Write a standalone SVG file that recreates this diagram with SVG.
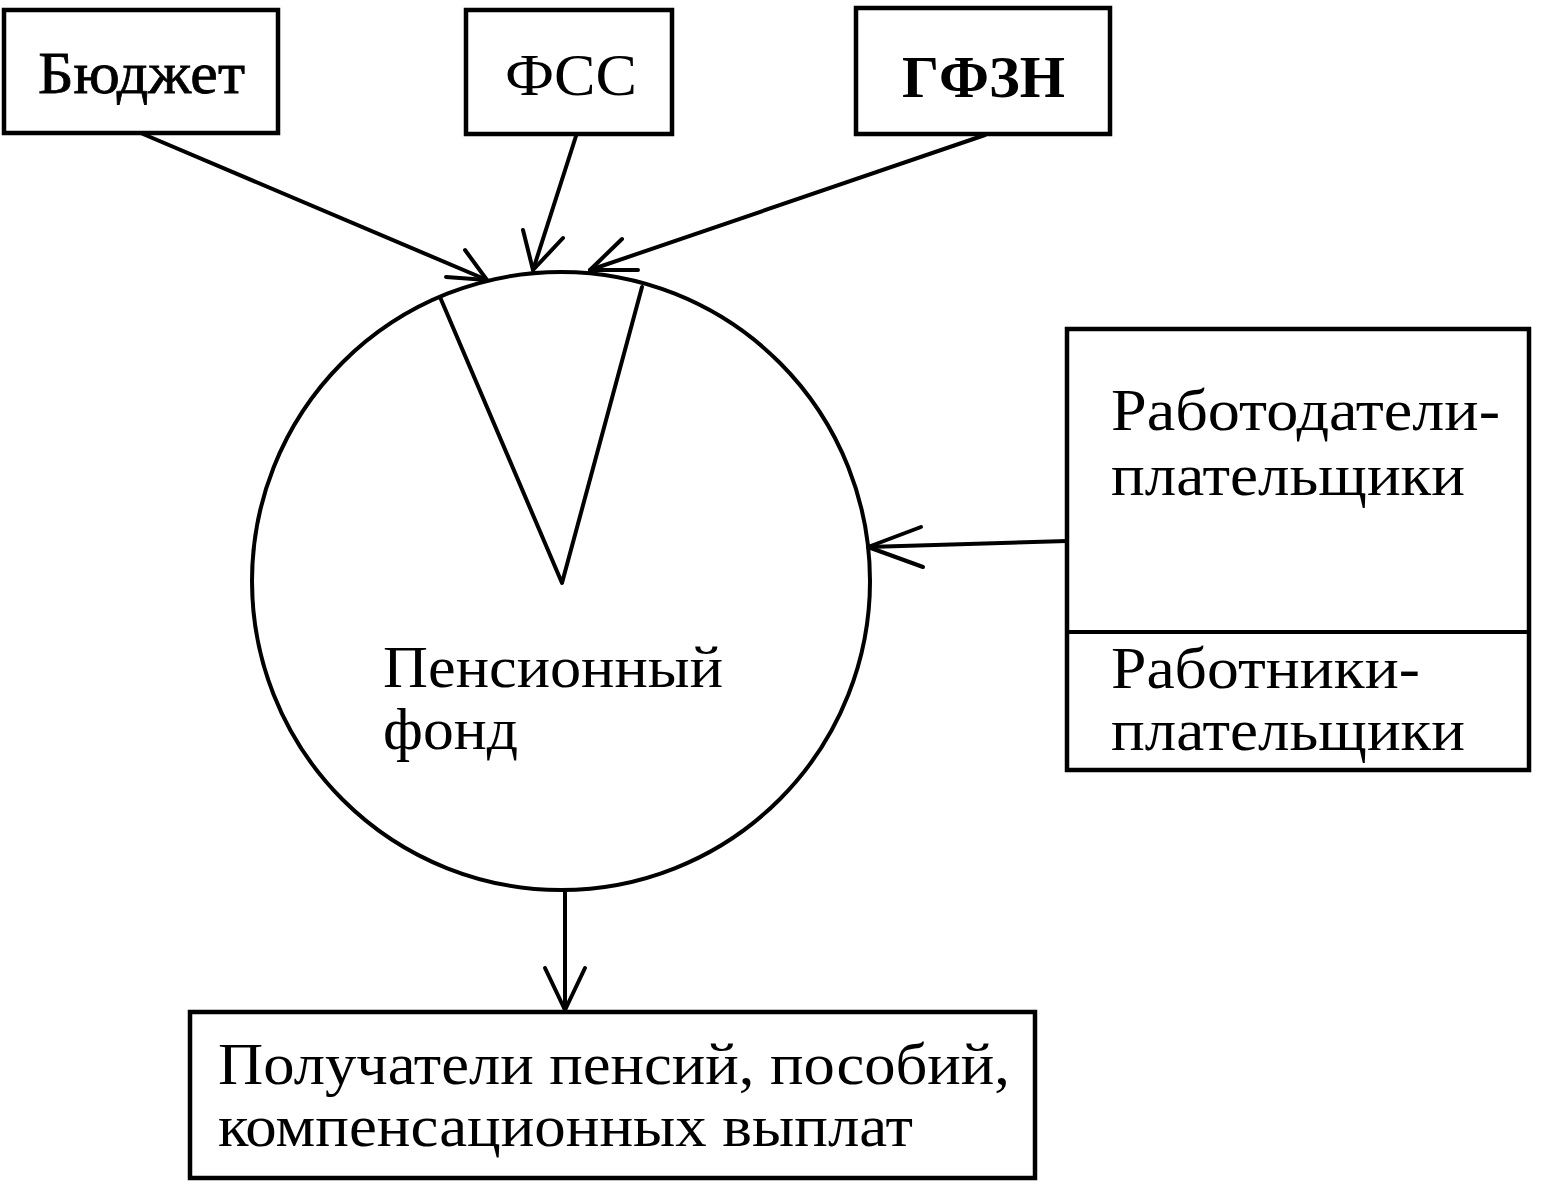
<svg xmlns="http://www.w3.org/2000/svg" width="1544" height="1188" viewBox="0 0 1544 1188">
<style>
.box{fill:#fff;stroke:#000;stroke-width:4.5}
.ln{fill:none;stroke:#000;stroke-width:4;stroke-linecap:round;stroke-linejoin:round}
.t{font-family:"Liberation Serif","Times New Roman",serif;font-size:60px;fill:#000}
.b{font-weight:bold}
.m{stroke:#000;stroke-width:0.8}
</style>
<rect width="1544" height="1188" fill="#fff"/>
<g id="node-budget">
<rect class="box" x="4" y="10" width="274" height="123"/>
<text class="t m" x="38" y="93" font-size="58" textLength="207" lengthAdjust="spacingAndGlyphs">Бюджет</text>
</g>
<g id="node-fss">
<rect class="box" x="466" y="10" width="206" height="124"/>
<text class="t" x="505" y="95" font-size="60" textLength="132" lengthAdjust="spacingAndGlyphs">ФСС</text>
</g>
<g id="node-gfzn">
<rect class="box" x="856" y="8" width="254" height="126"/>
<text class="t b" x="902" y="97" font-size="62" textLength="163" lengthAdjust="spacingAndGlyphs">ГФЗН</text>
</g>
<g id="node-fund">
<circle class="ln" cx="561" cy="581" r="309"/>
<polyline class="ln" points="440,297 562,583 642,287"/>
<text class="t" font-size="57"><tspan x="383" y="687" textLength="340" lengthAdjust="spacingAndGlyphs">Пенсионный</tspan><tspan x="383" y="749" textLength="135" lengthAdjust="spacingAndGlyphs">фонд</tspan></text>
</g>
<g id="node-payers">
<rect class="box" x="1067" y="329" width="462" height="441"/>
<line class="ln" x1="1067" y1="632" x2="1529" y2="632"/>
<text class="t" font-size="60"><tspan x="1111" y="430" textLength="389" lengthAdjust="spacingAndGlyphs">Работодатели-</tspan><tspan x="1111" y="495" textLength="354" lengthAdjust="spacingAndGlyphs">плательщики</tspan></text>
<text class="t" font-size="60"><tspan x="1111" y="688" textLength="309" lengthAdjust="spacingAndGlyphs">Работники-</tspan><tspan x="1111" y="750" textLength="354" lengthAdjust="spacingAndGlyphs">плательщики</tspan></text>
</g>
<g id="node-recipients">
<rect class="box" x="190" y="1012" width="845" height="166"/>
<text class="t" font-size="57"><tspan x="218" y="1084" textLength="792" lengthAdjust="spacingAndGlyphs">Получатели пенсий, пособий,</tspan><tspan x="218" y="1146" textLength="695" lengthAdjust="spacingAndGlyphs">компенсационных выплат</tspan></text>
</g>
<g id="connectors">
<line class="ln" x1="143" y1="134" x2="487" y2="280"/>
<polyline class="ln" points="465,250 487,280 446,277"/>
<line class="ln" x1="576" y1="136" x2="533" y2="270"/>
<polyline class="ln" points="523,230 533,270 563,238"/>
<line class="ln" x1="985" y1="135" x2="590" y2="270"/>
<polyline class="ln" points="622,239 590,270 638,270"/>
<line class="ln" x1="1067" y1="541" x2="868" y2="547"/>
<polyline class="ln" points="921,527 868,547 923,567"/>
<line class="ln" x1="565" y1="891" x2="565" y2="1010"/>
<polyline class="ln" points="545,968 565,1010 585,968"/>
</g>
</svg>
